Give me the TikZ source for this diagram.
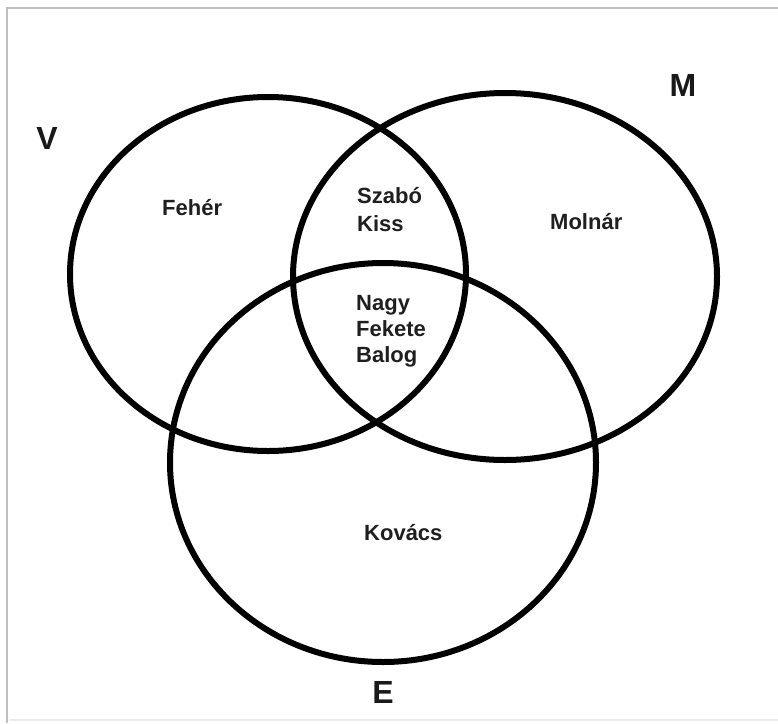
\documentclass[tikz,border=0pt]{standalone}
\usepackage{fontspec}
\setmainfont{Liberation Sans}
\begin{document}
\begin{tikzpicture}[x=1pt,y=-1pt,
  setline/.style={line width=6pt, black},
  personlabel/.style={font=\fontsize{22}{26}\selectfont\bfseries, text=black!88, inner sep=0pt, anchor=base west},
  setlabel/.style={font=\fontsize{32}{36}\selectfont\bfseries, text=black!90, inner sep=0pt}
]
\useasboundingbox (0,0) rectangle (778,723);
\fill[white] (0,0) rectangle (778,723);
\draw[black!25, line width=2pt] (7,723) -- (7,8) -- (778,8);
\draw[black!8, line width=1.5pt] (9,720) -- (778,720);

\coordinate (cV) at (268,274);
\coordinate (cM) at (505,276.5);
\coordinate (cE) at (383,462.5);
\draw[setline] (cV) ellipse [x radius=198, y radius=177];
\draw[setline] (cM) ellipse [x radius=212, y radius=183.5];
\draw[setline] (cE) ellipse [x radius=213, y radius=199.5];

\node[setlabel] (lV) at (47,138.5) {V};
\node[setlabel] (lM) at (683,85) {M};
\node[setlabel] (lE) at (383,692.5) {E};

\node[personlabel] (feher) at (162,215) {Fehér};
\node[personlabel] (szabo) at (357,203) {Szabó};
\node[personlabel] (kiss) at (357,231) {Kiss};
\node[personlabel] (nagy) at (356,310) {Nagy};
\node[personlabel] (fekete) at (356,336) {Fekete};
\node[personlabel] (balog) at (356,362) {Balog};
\node[personlabel] (molnar) at (550,229) {Molnár};
\node[personlabel] (kovacs) at (364,540) {Kovács};
\end{tikzpicture}
\end{document}
